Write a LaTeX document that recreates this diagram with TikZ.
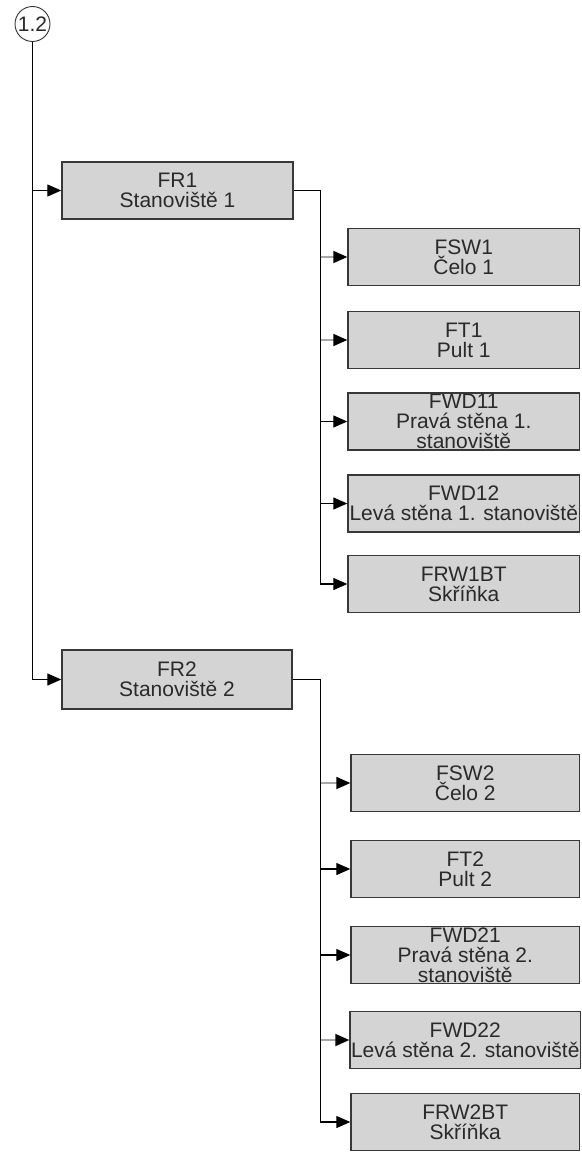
\documentclass[tikz,border=0pt]{standalone}
\usepackage{fontspec}
\setmainfont{Liberation Sans}
\usetikzlibrary{arrows.meta,calc}
\definecolor{boxfill}{HTML}{D4D4D4}
\definecolor{boxline}{HTML}{383838}
\definecolor{textgray}{HTML}{2A2A2A}
\definecolor{faintline}{HTML}{A8A8A8}

\begin{document}
\begin{tikzpicture}[x=1pt,y=-1pt,
  font=\fontsize{21}{20}\selectfont,
  >={Triangle[length=14pt,width=12pt]},
  box/.style={draw=boxline,fill=boxfill,line width=1.4pt,align=center,
              minimum height=57,minimum width=231,inner sep=1pt,text=textgray},
  ref/.style={draw=black!80,circle,line width=0.9pt,minimum size=35,inner sep=0pt,text=textgray},
  link/.style={->,line width=1.2pt,black},
  faint/.style={-{Triangle[length=14pt,width=12pt,color=black]},line width=1.8pt,faintline}]
\useasboundingbox (0,0) rectangle (581,1153);
\node[ref] (c12) at (32.5,24) {1.2};
% first station
\node[box] (fr1) at (177.5,190.5) {FR1\\Stanoviště 1};
\node[box,minimum width=231.5] (fsw1)   at (463.75,257)  {FSW1\\Čelo 1};
\node[box,minimum width=231.5] (ft1)    at (463.75,340)  {FT1\\Pult 1};
\node[box,minimum width=231.5] (fwd11)  at (463.75,421.5){FWD11\\Pravá stěna 1.\\stanoviště};
\node[box,minimum width=231.5] (fwd12)  at (463.75,503.5){FWD12\\Levá stěna 1. stanoviště};
\node[box,minimum width=231.5] (frw1bt) at (463.75,584)  {FRW1BT\\Skříňka};
% second station
\node[box,minimum width=230,minimum height=59] (fr2) at (177,679.5) {FR2\\Stanoviště 2};
\node[box,minimum width=228.5] (fsw2)   at (465.25,783)  {FSW2\\Čelo 2};
\node[box,minimum width=228.5] (ft2)    at (465.25,869)  {FT2\\Pult 2};
\node[box,minimum width=228.5] (fwd21)  at (465.25,955)  {FWD21\\Pravá stěna 2.\\stanoviště};
\node[box,minimum width=228.5] (fwd22)  at (465.25,1040) {FWD22\\Levá stěna 2. stanoviště};
\node[box,minimum width=228.5] (frw2bt) at (465.25,1122) {FRW2BT\\Skříňka};
\coordinate (bus1) at (320.5,0);
\coordinate (bus2) at (320.5,0);
% main trunk
\draw[link] (c12.south) -- (c12.south |- fr2.west) -- (fr2.west);
\draw[link] (c12.south |- fr1.west) -- (fr1.west);
% branches of FR1
\draw[link] (fr1.east) -- (fr1.east -| bus1) -- (bus1 |- frw1bt.west) -- (frw1bt.west);
\draw[faint] (bus1 |- fsw1.west) -- (fsw1.west);
\draw[faint] (bus1 |- ft1.west) -- (ft1.west);
\draw[link] (bus1 |- fwd11.west) -- (fwd11.west);
\draw[link] (bus1 |- fwd12.west) -- (fwd12.west);
% branches of FR2
\draw[link] (fr2.east) -- (fr2.east -| bus2) -- (bus2 |- frw2bt.west) -- (frw2bt.west);
\draw[faint] (bus2 |- fsw2.west) -- (fsw2.west);
\draw[link] (bus2 |- ft2.west) -- (ft2.west);
\draw[link] (bus2 |- fwd21.west) -- (fwd21.west);
\draw[faint] (bus2 |- fwd22.west) -- (fwd22.west);
\end{tikzpicture}
\end{document}
